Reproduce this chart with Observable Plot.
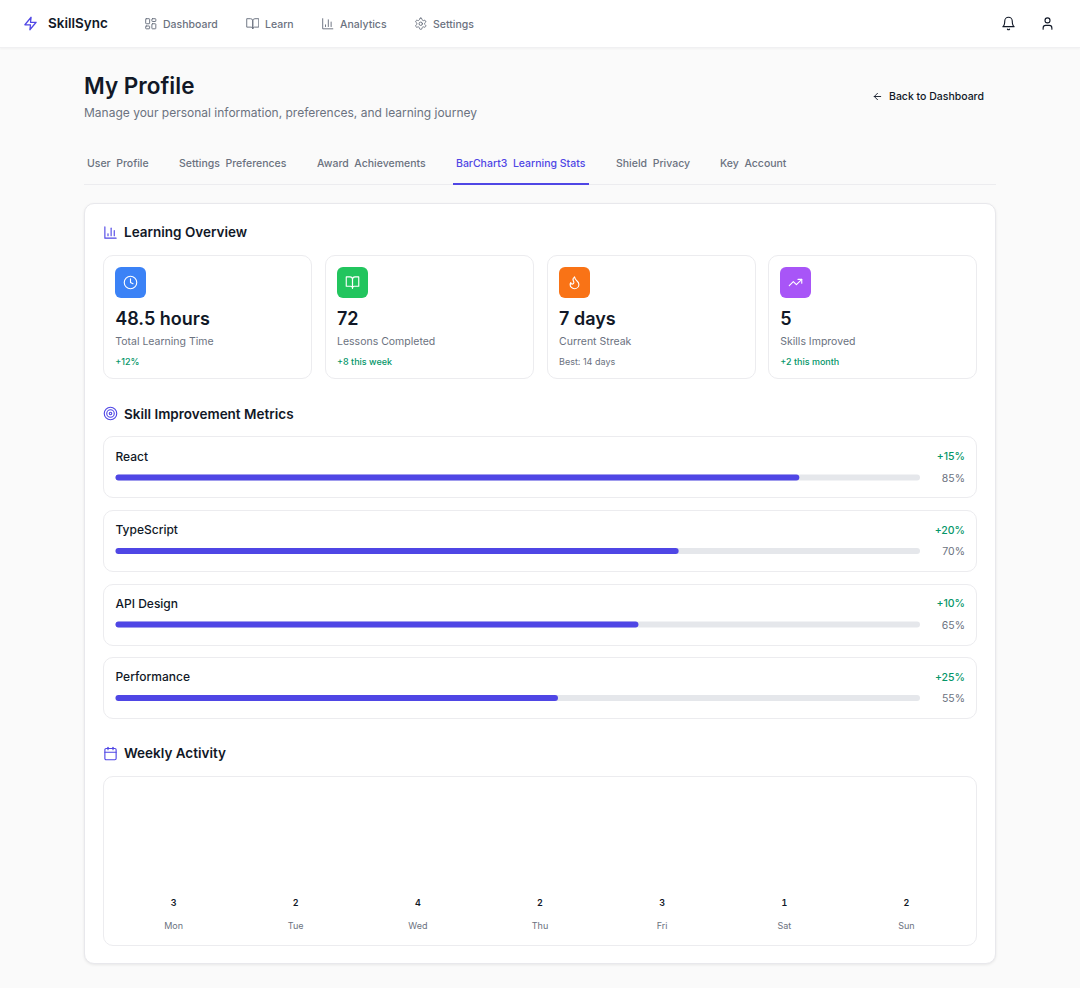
<!DOCTYPE html>
<html><head><meta charset="utf-8">
<script src="https://cdn.jsdelivr.net/npm/d3@7"></script>
<script src="https://cdn.jsdelivr.net/npm/@observablehq/plot@0.6"></script>
<style>
html,body{margin:0;padding:0;width:1080px;height:988px;overflow:hidden;background:#fafafa;font-family:Inter,sans-serif;color:#111827;-webkit-font-smoothing:antialiased}
#page{position:relative;width:1080px;height:988px}
.t{position:absolute;white-space:pre;line-height:1;transform:translateY(-50%)}
.b{position:absolute;box-sizing:border-box}
.i{position:absolute;fill:none;stroke:currentColor;stroke-linecap:round;stroke-linejoin:round}
#skills,#weekly{position:absolute}
#skills svg,#weekly svg{display:block;background:transparent}
</style></head><body><div id="page"></div>
<script>
// ---- data ----
const navItems = ["Dashboard","Learn","Analytics","Settings"];
const navTextX = [163,265,340,433];
const tabLabels = ["User  Profile","Settings  Preferences","Award  Achievements","BarChart3  Learning Stats","Shield  Privacy","Key  Account"];
const tabX = [87,179,317,456,616,720];
const statValues = ["48.5 hours","72","7 days","5"];
const statLabels = ["Total Learning Time","Lessons Completed","Current Streak","Skills Improved"];
const statNotes = ["+12%","+8 this week","Best: 14 days","+2 this month"];
const statColors = ["#3b82f6","#22c55e","#f97316","#a855f7"];
const skillNames = ["React","TypeScript","API Design","Performance"];
const skillLevels = [85,70,65,55];
const skillGains = [15,20,10,25];
const days = ["Mon","Tue","Wed","Thu","Fri","Sat","Sun"];
const dayCounts = [3,2,4,2,3,1,2];

// ---- icons ----
const ic = {
 zap:'<polygon points="13 2 3 14 12 14 11 22 21 10 12 10 13 2"/>',
 dash:'<rect x="3" y="3" width="7" height="9" rx="1"/><rect x="14" y="3" width="7" height="5" rx="1"/><rect x="14" y="12" width="7" height="9" rx="1"/><rect x="3" y="16" width="7" height="5" rx="1"/>',
 book:'<path d="M2 3h6a4 4 0 0 1 4 4v14a3 3 0 0 0-3-3H2z"/><path d="M22 3h-6a4 4 0 0 0-4 4v14a3 3 0 0 1 3-3h7z"/>',
 chart:'<path d="M3 3v18h18"/><path d="M18 17V9"/><path d="M13 17V5"/><path d="M8 17v-3"/>',
 gear:'<path d="M12.22 2h-.44a2 2 0 0 0-2 2v.18a2 2 0 0 1-1 1.73l-.43.25a2 2 0 0 1-2 0l-.15-.08a2 2 0 0 0-2.73.73l-.22.38a2 2 0 0 0 .73 2.73l.15.1a2 2 0 0 1 1 1.72v.51a2 2 0 0 1-1 1.74l-.15.09a2 2 0 0 0-.73 2.73l.22.38a2 2 0 0 0 2.73.73l.15-.08a2 2 0 0 1 2 0l.43.25a2 2 0 0 1 1 1.73V20a2 2 0 0 0 2 2h.44a2 2 0 0 0 2-2v-.18a2 2 0 0 1 1-1.73l.43-.25a2 2 0 0 1 2 0l.15.08a2 2 0 0 0 2.73-.73l.22-.39a2 2 0 0 0-.73-2.73l-.15-.08a2 2 0 0 1-1-1.74v-.5a2 2 0 0 1 1-1.74l.15-.09a2 2 0 0 0 .73-2.73l-.22-.38a2 2 0 0 0-2.73-.73l-.15.08a2 2 0 0 1-2 0l-.43-.25a2 2 0 0 1-1-1.73V4a2 2 0 0 0-2-2z"/><circle cx="12" cy="12" r="3"/>',
 bell:'<path d="M6 8a6 6 0 0 1 12 0c0 7 3 9 3 9H3s3-2 3-9"/><path d="M10.3 21a1.94 1.94 0 0 0 3.4 0"/>',
 user:'<path d="M19 21v-2a4 4 0 0 0-4-4H9a4 4 0 0 0-4 4v2"/><circle cx="12" cy="7" r="4"/>',
 arrow:'<path d="m12 19-7-7 7-7"/><path d="M19 12H5"/>',
 clock:'<circle cx="12" cy="12" r="10"/><polyline points="12 6 12 12 16 14"/>',
 flame:'<path d="M8.5 14.5A2.5 2.5 0 0 0 11 12c0-1.38-.5-2-1-3-1.072-2.143-.224-4.054 2-6 .5 2.5 2 4.9 4 6.5 2 1.6 3 3.5 3 5.5a7 7 0 1 1-14 0c0-1.153.433-2.294 1-3a2.5 2.5 0 0 0 2.5 2.5z"/>',
 trend:'<polyline points="22 7 13.5 15.5 8.5 10.5 2 17"/><polyline points="16 7 22 7 22 13"/>',
 target:'<circle cx="12" cy="12" r="10"/><circle cx="12" cy="12" r="6"/><circle cx="12" cy="12" r="2"/>',
 cal:'<rect x="3" y="4" width="18" height="18" rx="2"/><path d="M16 2v4"/><path d="M8 2v4"/><path d="M3 10h18"/>'
};
const page = document.getElementById("page");
function box(x,y,w,h,css){const d=document.createElement("div");d.className="b";d.style.cssText=`left:${x}px;top:${y}px;width:${w}px;height:${h}px;${css||""}`;page.appendChild(d);return d;}
function text(x,y,s,size,weight,color,extra){const d=document.createElement("div");d.className="t";d.textContent=s;d.style.cssText=`left:${x}px;top:${y}px;font-size:${size}px;font-weight:${weight};color:${color};${extra||""}`;page.appendChild(d);return d;}
function icon(name,x,y,size,color,sw){const ns="http://www.w3.org/2000/svg";const s=document.createElementNS(ns,"svg");s.setAttribute("class","i");s.setAttribute("viewBox","0 0 24 24");s.setAttribute("width",size);s.setAttribute("height",size);s.setAttribute("stroke-width",sw||2);s.style.left=x+"px";s.style.top=y+"px";s.style.color=color;s.innerHTML=ic[name];page.appendChild(s);}

const DARK="#111827",GRAY="#6b7280",INDIGO="#4f46e5",GREEN="#059669",LINE="#e5e7eb";

// header
box(0,0,1080,47.5,"background:#fff;border-bottom:1px solid #f0f0f2;box-shadow:0 1px 2px rgba(0,0,0,.04)");
icon("zap",22.5,16,15,INDIGO,2);
text(48,24,"SkillSync",13.5,600,DARK);
["dash","book","chart","gear"].forEach((n,i)=>icon(n,navTextX[i]-19.5,17,13.5,GRAY,1.7));
navItems.forEach((s,i)=>text(navTextX[i],24.5,s,10.5,500,GRAY));
icon("bell",1000.5,16,15,DARK,1.8);
icon("user",1039.5,16,15,DARK,1.8);

// title
text(84,86,"My Profile",22.5,600,DARK);
text(84,112.5,"Manage your personal information, preferences, and learning journey",12,400,GRAY);
icon("arrow",872,90.5,11,DARK,2);
text(889,96.5,"Back to Dashboard",10.5,500,DARK);

// tabs
box(84,184,912,1,"background:#ececef");
tabLabels.forEach((s,i)=>text(tabX[i],163.5,s,10.5,500,i===3?INDIGO:GRAY));
box(453,183,136,1.5,"background:"+INDIGO);

// main card
box(84,203,912,761,"background:#fff;border:1px solid #e8e8ec;border-radius:10px;box-shadow:0 1px 3px rgba(0,0,0,.08)");

// section heads
icon("chart",103,225,15,INDIGO,1.8);
text(124,233,"Learning Overview",13.5,600,DARK);
icon("target",103,406,15,INDIGO,1.8);
text(124,414.5,"Skill Improvement Metrics",13.5,600,DARK);
icon("cal",103,745.5,15,INDIGO,1.8);
text(124,753.5,"Weekly Activity",13.5,600,DARK);

// stat cards
const statCardX=[103,324.75,546.75,768], statIcons=["clock","book","flame","trend"];
statCardX.forEach((x,i)=>{
  box(x,255,209,124,"background:#fff;border:1px solid #ececef;border-radius:10px");
  box(x+12,267,31,31,"border-radius:6px;background:"+statColors[i]);
  icon(statIcons[i],x+20,275,15,"#fff",1.8);
  text(x+12.25,319,statValues[i],18,600,DARK);
  text(x+12.25,342,statLabels[i],10.5,400,GRAY);
  text(x+12.25,360.5,statNotes[i],9,i===2?400:500,i===2?GRAY:GREEN);
});

// skill rows
[[436,62],[510,61.5],[584,61.5],[657,62]].forEach(([y,h])=>box(103,y,874,h,"background:#fff;border:1px solid #ececef;border-radius:10px"));
// weekly card
box(103,776,874,169.5,"background:#fff;border:1px solid #ececef;border-radius:10px");

// ---- Plot: skill metrics ----
const skillRows = skillNames.map((name,i)=>({name,level:skillLevels[i],gain:skillGains[i]}));
const skillsPlot = Plot.plot({
  width:874,height:283,margin:0,
  style:{background:"transparent",fontFamily:"Inter, sans-serif"},
  x:{domain:[0,100],range:[12.5,817],axis:null},
  y:{type:"band",domain:skillNames,range:[38.5,265],paddingInner:0.9184,paddingOuter:0,axis:null,round:false},
  marks:[
    Plot.barX(skillRows,{x1:0,x2:100,y:"name",fill:"#e5e7eb",rx:3}),
    Plot.barX(skillRows,{x1:0,x2:"level",y:"name",fill:INDIGO,rx:3}),
    Plot.text(skillRows,{x:0,y:"name",dx:-0.5,dy:-21,text:"name",textAnchor:"start",fontSize:12,fontWeight:500,fill:DARK}),
    Plot.text(skillRows,{x:100,y:"name",dx:44.5,dy:-21,text:d=>`+${d.gain}%`,textAnchor:"end",fontSize:10.5,fontWeight:500,fill:GREEN}),
    Plot.text(skillRows,{x:100,y:"name",dx:44.5,dy:0.5,text:d=>`${d.level}%`,textAnchor:"end",fontSize:10.5,fontWeight:400,fill:GRAY})
  ]
});
const sw=document.createElement("div");sw.id="skills";sw.style.left="103px";sw.style.top="436px";sw.appendChild(skillsPlot);page.appendChild(sw);

// ---- Plot: weekly activity ----
const dayRows = days.map((day,i)=>({day,count:dayCounts[i]}));
const weeklyPlot = Plot.plot({
  width:874,height:169,marginTop:0,marginBottom:30,marginLeft:0,marginRight:0,
  style:{background:"transparent",fontFamily:"Inter, sans-serif"},
  x:{type:"band",domain:days,range:[9,864],padding:0,round:false,label:null},
  marks:[
    Plot.axisX({anchor:"bottom",tickSize:0,tickPadding:7.5,fontSize:9,fill:GRAY,label:null}),
    Plot.text(dayRows,{x:"day",text:"count",frameAnchor:"bottom",dy:-10,fontSize:9,fontWeight:600,fill:DARK})
  ]
});
const wk=document.createElement("div");wk.id="weekly";wk.style.left="103px";wk.style.top="776px";wk.appendChild(weeklyPlot);page.appendChild(wk);
</script></body></html>
